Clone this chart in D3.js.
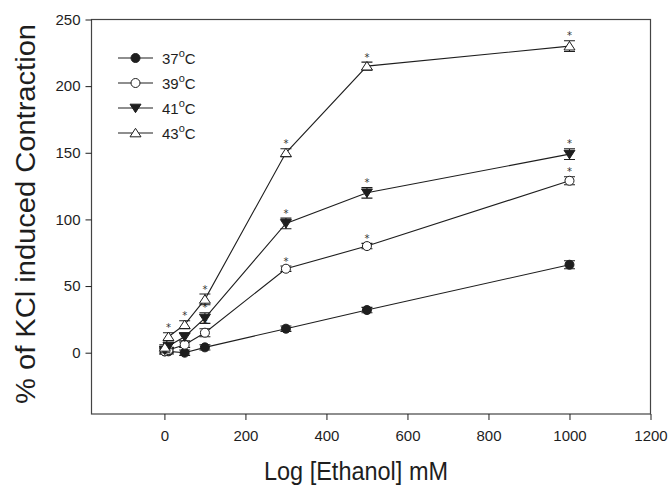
<!DOCTYPE html>
<html>
<head>
<meta charset="utf-8">
<script src="https://cdn.jsdelivr.net/npm/d3@7"></script>
<style>
  html, body { margin: 0; padding: 0; background: #fff; }
  svg { display: block; font-family: "Liberation Sans", Arial, sans-serif; }
</style>
</head>
<body>
<svg id="chart" width="669" height="488"></svg>
<script>
// Ethanol concentration vs % of KCl induced contraction, four temperatures

const doses = [1, 10, 50, 100, 300, 500, 1000];
const xTicks = [0, 200, 400, 600, 800, 1000, 1200];
const yTicks = [0, 50, 100, 150, 200, 250];

const temp37 = [1, 1, 0, 4, 18, 32, 66];
const temp39 = [1, 2, 6, 15, 63, 80, 129];
const temp41 = [2, 5, 12, 26, 97, 120, 149];
const temp43 = [4, 12, 21, 40, 150, 215, 230];

const err37 = [2, 2, 2, 2, 2, 2, 3];
const err39 = [2, 2, 2, 3, 2, 2, 3];
const err41 = [2, 2, 3, 4, 4, 4, 4];
const err43 = [2, 3, 3, 4, 3, 3, 4];

const star37 = [0, 0, 0, 0, 0, 0, 0];
const star39 = [0, 0, 1, 1, 1, 1, 1];
const star41 = [0, 0, 1, 1, 1, 1, 1];
const star43 = [0, 1, 1, 1, 1, 1, 1];

const seriesNames = ['37', '39', '41', '43'];

const series = [
    { name: '37', values: temp37, errs: err37, stars: star37, shape: 'circle', filled: true },
    { name: '39', values: temp39, errs: err39, stars: star39, shape: 'circle', filled: false },
    { name: '41', values: temp41, errs: err41, stars: star41, shape: 'down', filled: true },
    { name: '43', values: temp43, errs: err43, stars: star43, shape: 'up', filled: false }
];

const svg = d3.select('#chart');
const INK = '#1e1e1e';

const MARGIN = { top: 19.5, right: 18.5, bottom: 74, left: 91.5 };
const WIDTH = 669 - MARGIN.left - MARGIN.right;
const HEIGHT = 488 - MARGIN.top - MARGIN.bottom;

const x = d3.scaleLinear().domain([-180, 1200]).range([0, WIDTH]);
const y = d3.scaleLinear().domain([-46, 250]).range([HEIGHT, 0]);

const g = svg.append('g').attr('transform', `translate(${MARGIN.left},${MARGIN.top})`);

// frame
g.append('rect')
    .attr('x', 0).attr('y', 0)
    .attr('width', WIDTH).attr('height', HEIGHT)
    .attr('fill', 'none')
    .attr('stroke', '#444')
    .attr('stroke-width', 1.2);

// axes
const xAxis = g.append('g')
    .attr('transform', `translate(0,${HEIGHT})`)
    .call(d3.axisBottom(x).tickValues(xTicks).tickFormat(d3.format('d')).tickSize(6).tickPadding(10));
const yAxis = g.append('g')
    .call(d3.axisLeft(y).tickValues(yTicks).tickFormat(d3.format('d')).tickSize(6).tickPadding(5));

[xAxis, yAxis].forEach(a => {
    a.select('.domain').remove();
    a.selectAll('.tick line').attr('stroke', INK).attr('stroke-width', 1);
    a.selectAll('.tick text')
        .attr('fill', INK)
        .style('font-family', '"Liberation Sans", Arial, sans-serif')
        .style('font-size', '15px');
});

// symbol drawing
function drawMarker(sel, shape, filled, size) {
    const fill = filled ? INK : '#fff';
    if (shape === 'circle') {
        sel.append('circle').attr('r', size * 0.45)
            .attr('fill', fill).attr('stroke', INK).attr('stroke-width', 1);
    } else {
        const h = size * 0.85, w = size * 0.55;
        const pts = shape === 'up'
            ? [[0, -h * 0.55], [w, h * 0.45], [-w, h * 0.45]]
            : [[0, h * 0.55], [w, -h * 0.45], [-w, -h * 0.45]];
        sel.append('path').attr('d', d3.line()(pts) + 'Z')
            .attr('fill', fill).attr('stroke', INK).attr('stroke-width', 1);
    }
}

const line = d3.line().x(d => x(d.dose)).y(d => y(d.v));

series.forEach(s => {
    const pts = doses.map((d, i) => ({ dose: d, v: s.values[i], e: s.errs[i], star: s.stars[i] }));

    g.append('path')
        .datum(pts)
        .attr('d', line)
        .attr('fill', 'none')
        .attr('stroke', INK)
        .attr('stroke-width', 1.1);

    const pg = g.selectAll(null)
        .data(pts)
        .join('g')
        .attr('transform', d => `translate(${x(d.dose)},${y(d.v)})`);

    // error bars
    pg.append('path')
        .attr('d', d => {
            const up = y(d.v + d.e) - y(d.v), dn = y(d.v - d.e) - y(d.v);
            return `M0,${up}V${dn}M-5.5,${up}H5.5M-5.5,${dn}H5.5`;
        })
        .attr('stroke', INK)
        .attr('stroke-width', 1.1)
        .attr('fill', 'none');

    pg.each(function() { drawMarker(d3.select(this), s.shape, s.filled, 10); });

    // significance marks
    pg.filter(d => d.star)
        .append('text')
        .attr('y', d => y(d.v + d.e) - y(d.v) - 1.5)
        .attr('text-anchor', 'middle')
        .attr('fill', '#333')
        .style('font-family', '"DejaVu Sans", sans-serif')
        .style('font-size', '10px')
        .text('*');
});

// legend
const legend = svg.append('g').attr('transform', 'translate(118,58)');
series.forEach((s, i) => {
    const row = legend.append('g').attr('transform', `translate(0,${i * 25})`);
    row.append('line')
        .attr('x1', 0).attr('x2', 35)
        .attr('stroke', INK).attr('stroke-width', 1.1);
    const m = row.append('g').attr('transform', 'translate(17.5,0)');
    drawMarker(m, s.shape, s.filled, 10);
    const t = row.append('text')
        .attr('x', 44).attr('y', 6)
        .attr('fill', INK)
        .style('font-size', '15px');
    t.append('tspan').text(seriesNames[i]);
    t.append('tspan').attr('dy', -7).style('font-size', '11px').text('o');
    t.append('tspan').attr('dy', 7).text('C');
});

// axis titles
svg.append('text')
    .attr('x', 356).attr('y', 480)
    .attr('text-anchor', 'middle')
    .attr('fill', INK)
    .attr('textLength', 184)
    .attr('lengthAdjust', 'spacingAndGlyphs')
    .style('font-size', '26px')
    .text('Log [Ethanol] mM');

svg.append('text')
    .attr('transform', 'translate(35,214) rotate(-90)')
    .attr('text-anchor', 'middle')
    .attr('fill', INK)
    .attr('textLength', 380)
    .attr('lengthAdjust', 'spacingAndGlyphs')
    .style('font-size', '27px')
    .text('% of KCl induced Contraction');
</script>
</body>
</html>
